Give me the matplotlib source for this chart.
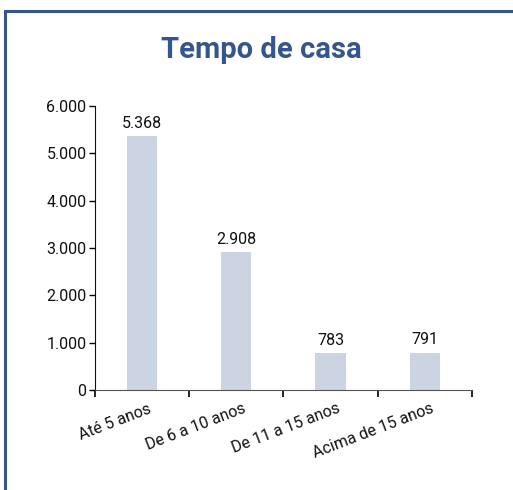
import matplotlib.pyplot as plt
import numpy as np
from matplotlib.lines import Line2D
from matplotlib.ticker import FuncFormatter
from matplotlib.transforms import ScaledTranslation

categories = ["Até 5 anos", "De 6 a 10 anos", "De 11 a 15 anos", "Acima de 15 anos"]
values = [5368, 2908, 783, 791]
value_labels = ["5.368", "2.908", "783", "791"]

plt.rcParams['font.family'] = ['Roboto', 'DejaVu Sans']

fig = plt.figure(figsize=(5.13, 4.90), dpi=100)
ax = fig.add_axes([0.185, 0.204, 0.735, 0.58])

x = np.arange(len(categories))
ax.bar(x, values, width=0.32, color="#ccd3e3")
for xi, v, lab in zip(x, values, value_labels):
    ax.text(xi, v + 110, lab, ha="center", va="bottom", fontsize=11.5, color="#111111")

ax.set_xlim(-0.5, len(categories) - 0.5)
ax.set_ylim(0, 6000)
ax.set_yticks(np.arange(0, 6001, 1000))
ax.yaxis.set_major_formatter(FuncFormatter(lambda v, p: f"{int(v):,}".replace(",", ".")))
ax.tick_params(axis="y", labelsize=11.5, length=4, width=1, pad=2, labelcolor="#111111")

# ticks between categories, labels at the centers
ax.set_xticks(np.arange(-0.5, len(categories), 1.0))
ax.set_xticklabels([])
ax.set_xticks(x, minor=True)
ax.set_xticklabels(categories, minor=True, rotation=21, ha="right",
                   rotation_mode="anchor", fontsize=11.5, color="#111111")
ax.tick_params(axis="x", which="minor", length=0, pad=8)
ax.tick_params(axis="x", which="major", length=5, width=1.2)
for lab in ax.get_xticklabels(minor=True):
    lab.set_transform(lab.get_transform() + ScaledTranslation(0.06, 0, fig.dpi_scale_trans))

for s in ["top", "right"]:
    ax.spines[s].set_visible(False)
ax.spines["left"].set_color("#111111")
ax.spines["bottom"].set_color("#555555")

fig.text(0.51, 0.897, "Tempo de casa", ha="center", va="center",
         fontsize=21, fontweight="bold", color="#34558f")

# frame: left and top lines
fig.add_artist(Line2D([0.009, 0.009], [0.0, 0.977], color="#34558f", lw=2.2,
                      transform=fig.transFigure))
fig.add_artist(Line2D([0.009, 1.0], [0.977, 0.977], color="#34558f", lw=2.2,
                      transform=fig.transFigure))

fig.savefig("out.png", dpi=100)
